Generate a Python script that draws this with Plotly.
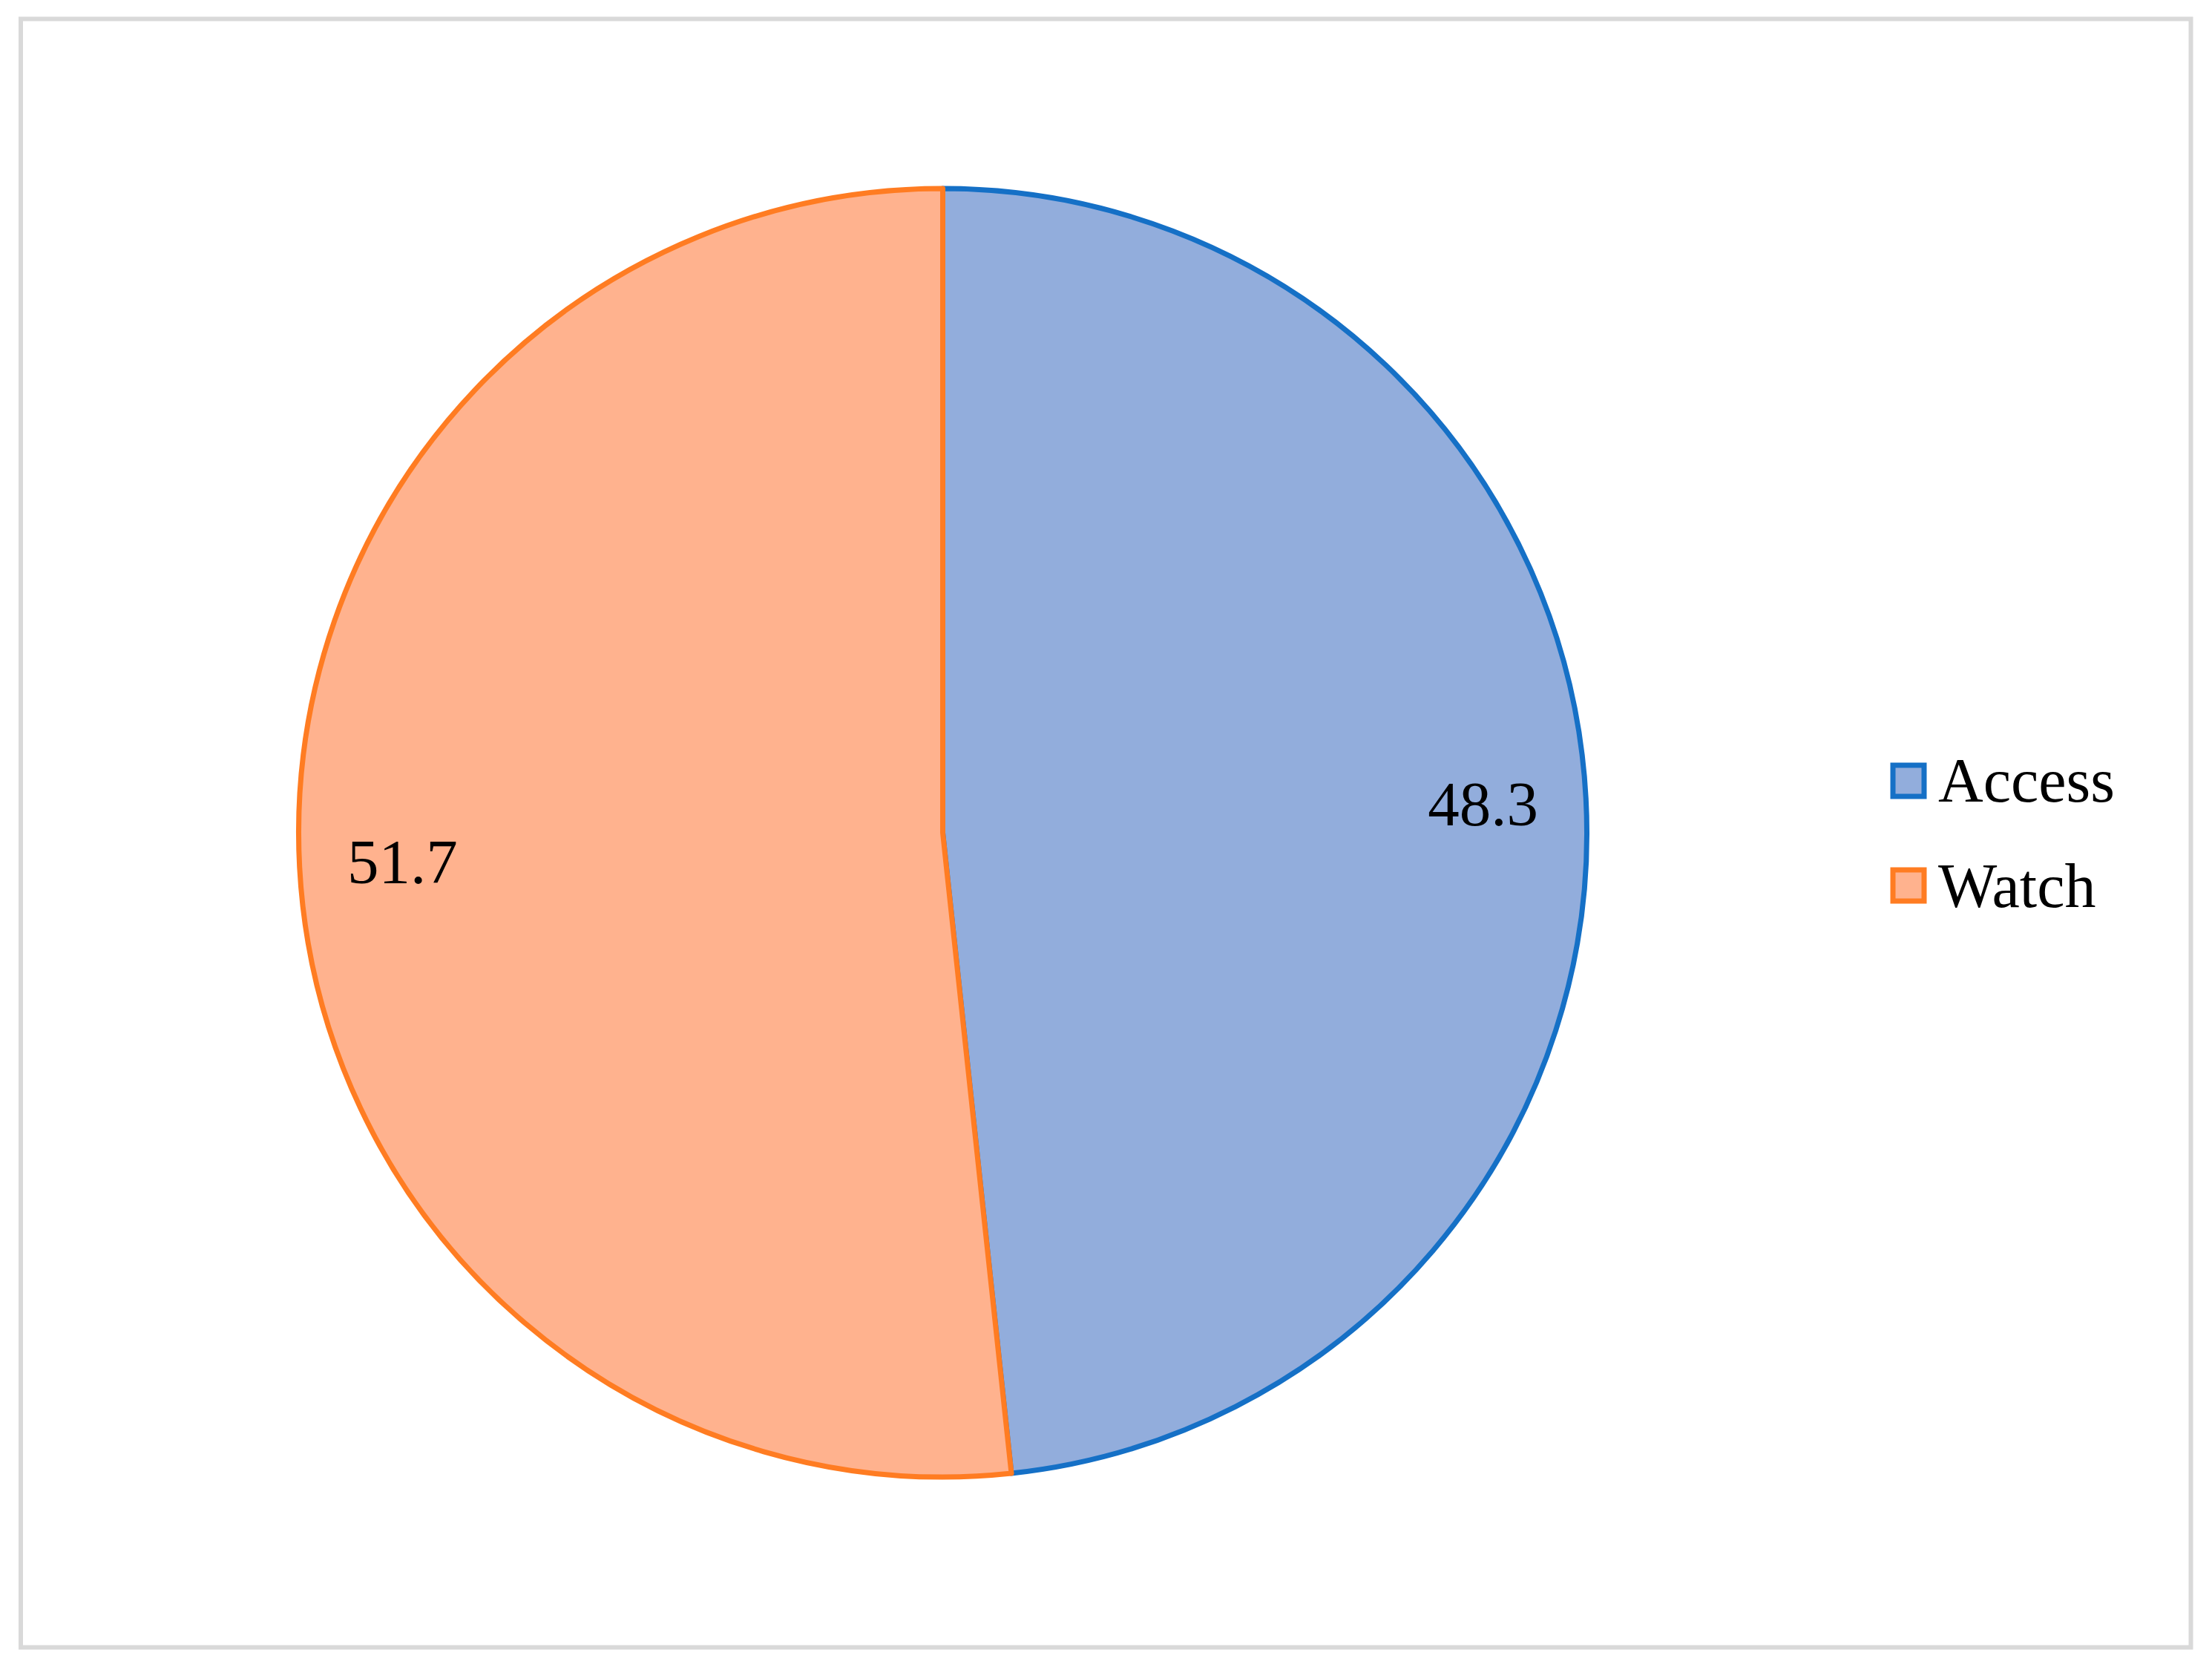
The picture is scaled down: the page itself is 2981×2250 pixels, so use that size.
import plotly.graph_objects as go

labels = ["Access", "Watch"]
values = [48.3, 51.7]
fill_colors = ["#92ADDC", "#FFB28E"]
line_colors = ["#1570C6", "#FF7C22"]

W, H = 2981, 2250
FONT = "Liberation Serif, Times New Roman, serif"

# pie geometry in pixels
cx, cy, r = 1270.5, 1122, 868
domain = dict(x=[(cx - r) / W, (cx + r) / W], y=[(H - cy - r) / H, (H - cy + r) / H])

fig = go.Figure()
# filled pie, no text
fig.add_trace(go.Pie(
    labels=labels,
    values=values,
    sort=False,
    direction="clockwise",
    rotation=0,
    marker=dict(colors=fill_colors, line=dict(color=line_colors, width=7)),
    textinfo="none",
    hoverinfo="label+value",
    showlegend=False,
    domain=domain,
))
# transparent ring carrying the data labels further out
fig.add_trace(go.Pie(
    labels=labels,
    values=values,
    sort=False,
    direction="clockwise",
    rotation=0,
    hole=0.68,
    marker=dict(colors=["rgba(0,0,0,0)"] * 2, line=dict(width=0)),
    textinfo="value",
    texttemplate="%{value}",
    textposition="inside",
    insidetextorientation="horizontal",
    textfont=dict(family=FONT, size=85, color="black"),
    hoverinfo="skip",
    showlegend=False,
    domain=domain,
))

shapes = [dict(type="rect", xref="paper", yref="paper",
               x0=28 / W, x1=2952.5 / W, y0=1 - 2219.5 / H, y1=1 - 25.5 / H,
               line=dict(color="#D9D9D9", width=6), fillcolor="rgba(0,0,0,0)", layer="below")]
annotations = []
leg_x0, leg_size = 2551, 42
leg_y = [1052, 1193]
for i, lab in enumerate(labels):
    yc = leg_y[i]
    shapes.append(dict(type="rect", xref="paper", yref="paper",
                       x0=leg_x0 / W, x1=(leg_x0 + leg_size) / W,
                       y0=1 - (yc + leg_size / 2) / H, y1=1 - (yc - leg_size / 2) / H,
                       fillcolor=fill_colors[i], line=dict(color=line_colors[i], width=7)))
    annotations.append(dict(xref="paper", yref="paper", x=2610 / W, y=1 - yc / H,
                            xanchor="left", yanchor="middle", showarrow=False,
                            text=lab, font=dict(family=FONT, size=84, color="black")))

fig.update_layout(
    width=W, height=H,
    margin=dict(l=0, r=0, t=0, b=0),
    paper_bgcolor="white", plot_bgcolor="white",
    shapes=shapes, annotations=annotations,
    font=dict(family=FONT),
)

fig.write_html("out.html", config={"displayModeBar": False},
               post_script="document.body.style.margin='0';document.body.style.overflow='hidden';")
